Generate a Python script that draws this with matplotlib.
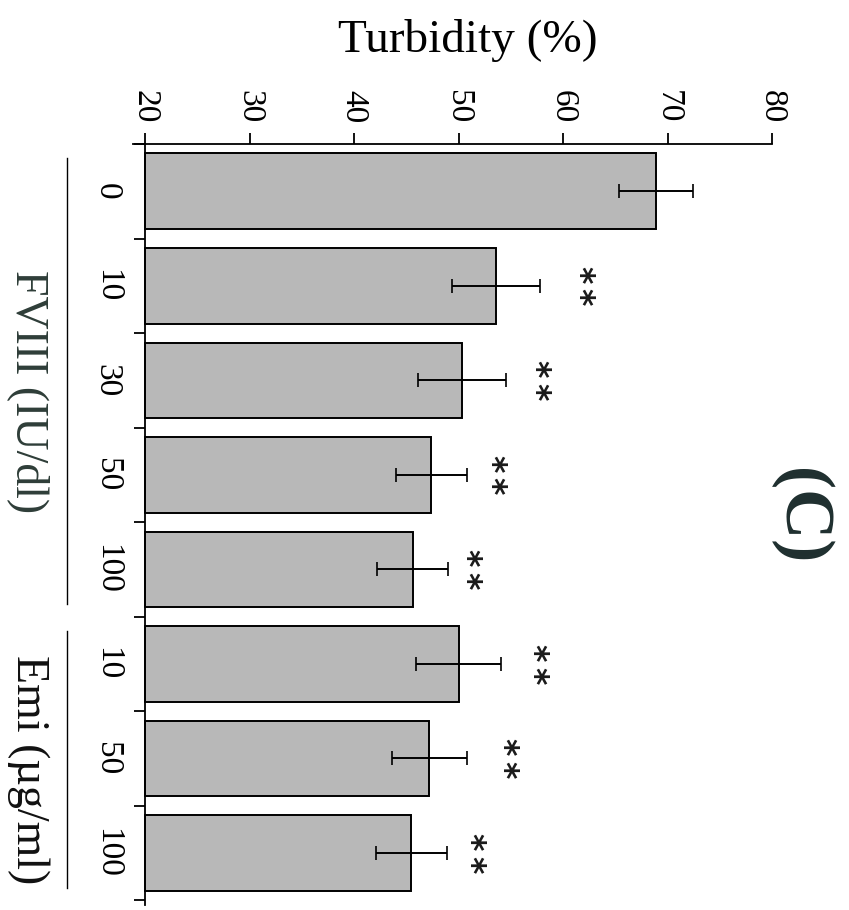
import numpy as np
import matplotlib
matplotlib.use("Agg")
import matplotlib.pyplot as plt
import matplotlib.transforms as mtransforms
from matplotlib.lines import Line2D

plt.rcParams['font.family'] = ['Liberation Serif', 'DejaVu Serif']

# Data read from the (rotated) figure
categories = ['0', '10', '30', '50', '100', '10', '50', '100']
turbidity = [68.9, 53.6, 50.3, 47.4, 45.6, 50.0, 47.2, 45.5]
sd = [3.55, 4.2, 4.2, 3.4, 3.4, 4.05, 3.6, 3.4]
n_stars = [0, 2, 2, 2, 2, 2, 2, 2]
star_pos = [0, 62.2, 58.0, 53.8, 51.4, 57.8, 54.9, 51.8]
groups = ['FVIII (IU/dl)', 'Emi (\u00b5g/ml)']
group_members = [[0, 1, 2, 3, 4], [5, 6, 7]]
group_colors = ['#2e3d38', '#111111']
xticks = [20, 30, 40, 50, 60, 70, 80]

W, H = 849, 910
fig = plt.figure(figsize=(W / 100, H / 100), dpi=100)
ax = fig.add_axes([133 / W, 1 - 905 / H, (772 - 133) / W, (905 - 144) / H])

pos = np.arange(len(categories))
base = 20
ax.barh(pos, np.array(turbidity) - base, left=base, height=0.8,
        color='#b8b8b8', edgecolor='black', linewidth=1.4, zorder=2)
ax.errorbar(turbidity, pos, xerr=sd, fmt='none', ecolor='black',
            elinewidth=1.4, capsize=5, capthick=1.2, zorder=3)

# significance stars, stacked along the bar axis
for i, n in enumerate(n_stars):
    offs = (np.arange(n) - (n - 1) / 2) * 0.24
    for o in offs:
        ax.text(star_pos[i] - 0.7, pos[i] + o, '*', rotation=-90, ha='center', va='center',
                fontsize=24, fontweight='bold', family='DejaVu Sans', color='#1a1a1a')

ax.set_xlim(18.85, 80)
ax.set_ylim(7.55, -0.5)

ax.xaxis.tick_top()
ax.set_xticks(xticks)
ax.set_xticklabels([str(t) for t in xticks], rotation=-90, fontsize=24)
ax.tick_params(axis='x', direction='out', length=8, width=1.3, pad=7)

ax.set_yticks(np.arange(-0.5, len(categories), 1))
ax.set_yticklabels([])
ax.tick_params(axis='y', direction='out', length=8, width=1.3)

ax.spines['left'].set_position(('data', base))
ax.spines['right'].set_visible(False)
ax.spines['bottom'].set_visible(False)
for sp in ['top', 'left']:
    ax.spines[sp].set_linewidth(1.3)

# category labels, rotated
trans = mtransforms.blended_transform_factory(fig.transFigure, ax.transData)
for i, c in enumerate(categories):
    ax.text(107 / W, pos[i], c, rotation=-90, ha='center', va='center',
            fontsize=24, transform=trans)

# group labels and brackets
for g, members, col in zip(groups, group_members, group_colors):
    mid = np.mean(members) + 0.12
    ax.text(28 / W, mid, g, rotation=-90, ha='center', va='center',
            fontsize=33, color=col, transform=trans)
    line = Line2D([67 / W, 67 / W], [members[0] - 0.35, members[-1] - 0.13 + 0.5],
                  transform=trans, color='black', linewidth=1.0, clip_on=False)
    ax.add_line(line)

fig.text(468 / W, 1 - 40 / H, 'Turbidity (%)', ha='center', va='center', fontsize=34)
fig.text(800 / W, 1 - 516 / H, '(C)', rotation=-90, ha='center', va='center',
         fontsize=50, fontweight='bold', color='#1f2f2f')

fig.savefig('out.png', dpi=100)
